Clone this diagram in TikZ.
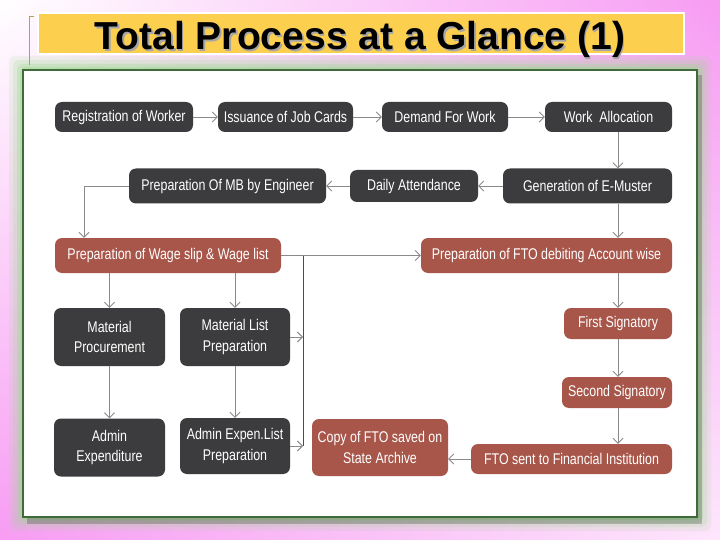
\documentclass[tikz,border=0pt]{standalone}
\usepackage{fontspec}
\setmainfont{Liberation Sans}
\newfontfamily\boxfont{Liberation Sans}[FakeStretch=0.8]
\usetikzlibrary{arrows.meta,positioning,shadings}

\definecolor{boxdark}{HTML}{3C3C3E}
\definecolor{boxred}{HTML}{A8564A}
\definecolor{titleyellow}{HTML}{FDCF4E}
\definecolor{bgpink}{HTML}{F79CF3}
\definecolor{framegreen}{HTML}{3F6B3A}
\definecolor{glowgreen}{HTML}{9CD98F}
\definecolor{linegray}{HTML}{8A8A8A}
\definecolor{bracketolive}{HTML}{B9A040}

\begin{document}
\begin{tikzpicture}[
    x=1pt, y=-1pt,
    box/.style={%
      rounded corners=7pt,
      text=white,
      align=center,
      inner sep=0pt,
      font=\boxfont\fontsize{15.5}{20.5}\selectfont,
    },
    darkbox/.style={box, fill=boxdark},
    redbox/.style={box, fill=boxred},
    sz/.style 2 args={minimum width=#1pt, minimum height=#2pt},
    arr/.style={draw=linegray, line width=0.9pt, -{Straight Barb[length=5pt,width=10pt]}},
    busline/.style={draw=black!70, line width=0.9pt},
  ]

    % background and frame
    \useasboundingbox (0,0) rectangle (720,540);
    \shade[upper left=white, upper right=bgpink, lower left=bgpink, lower right=bgpink!25]
      (0,0) rectangle (720,540);
    \foreach \g/\o in {14/0.15, 10/0.2, 6/0.3, 3/0.4}
      \fill[glowgreen, opacity=\o, rounded corners=6pt] (23-\g,70-\g) rectangle (697+\g,517+\g);
    \fill[black, opacity=0.2] (27,75) rectangle (702,524);
    \draw[framegreen, line width=1.5pt, fill=white] (23,70) rectangle (697,517);

    % title
    \draw[bracketolive, line width=1pt] (34,17) -- (29.5,17) -- (29.5,65);
    \fill[titleyellow, draw=white, line width=2.5pt] (38,13) rectangle (684,54);
    \node [anchor=base, font=\fontsize{39}{39}\selectfont\bfseries, text=black!35] (titleshadow)
      at (361.5,51.5) {Total Process at a Glance (1)};
    \node [anchor=base, font=\fontsize{39}{39}\selectfont\bfseries] (title)
      at (360,50) {Total Process at a Glance (1)};

    % boxes
    \node [darkbox, sz={138}{30}] (reg) at (124,117) {Registration of Worker};
    \path (reg) ++(161.5,0) node [darkbox, sz={135}{30}] (job) {Issuance of Job Cards};
    \path (job) ++(159.5,0) node [darkbox, sz={126}{30}] (demand) {Demand For Work};
    \path (demand) ++(163.5,0) node [darkbox, sz={127}{30}] (alloc) {Work\ \ Allocation};
    \path (alloc) ++(-21,69) node [darkbox, sz={169}{35}] (emuster) {Generation of E-Muster};
    \path (emuster) ++(-173.5,0) node [darkbox, sz={128}{32}] (attend) {Daily Attendance};
    \path (attend) ++(-186.5,0) node [darkbox, sz={197}{35}] (mb) {Preparation Of MB by Engineer};
    \path (mb) ++(-59.5,69.5) node [redbox, sz={226}{35}] (wage) {Preparation of Wage slip \& Wage list};
    \path (emuster) ++(-41,69.5) node [redbox, sz={251}{35}] (fto) {Preparation of FTO debiting Account wise};
    \path (wage) ++(-58.5,81.5) node [darkbox, sz={111}{58}] (matproc) {Material\\Procurement};
    \path (matproc) ++(125.5,0) node [darkbox, sz={110}{58}] (matlist) {Material List\\Preparation};
    \path (matproc) ++(0,110.5) node [darkbox, sz={111}{58}] (adminexp) {Admin\\Expenditure};
    \path (matlist) ++(0,109) node [darkbox, sz={110}{56}] (adminlist) {Admin Expen.List\\Preparation};
    \path (fto) ++(71.5,68) node [redbox, sz={108}{31}] (first) {First Signatory};
    \path (first) ++(-1,69) node [redbox, sz={110}{31}] (second) {Second Signatory};
    \path (second) ++(-45.5,66.5) node [redbox, sz={201}{30}] (sent) {FTO sent to Financial Institution};
    \path (sent) ++(-191.5,-11.5) node [redbox, sz={136}{57}] (copy) {Copy of FTO saved on\\State Archive};

    \coordinate (col) at (618,0);
    \coordinate (lcol) at (84,0);
    \coordinate (bus) at (303,0);

    % connectors
    \draw [arr] (reg) -- (job);
    \draw [arr] (job) -- (demand);
    \draw [arr] (demand) -- (alloc);
    \draw [arr] (alloc.south -| col) -- (emuster.north -| col);
    \draw [arr] (emuster) -- (attend);
    \draw [arr] (attend) -- (mb);
    \draw [arr] (mb.west) -| (wage.north -| lcol);
    \draw [arr] (emuster.south -| col) -- (fto.north -| col);
    \draw [arr] (wage.east) -- (fto.west);
    \draw [arr] (wage.south -| matproc) -- (matproc.north);
    \draw [arr] (wage.south -| matlist) -- (matlist.north);
    \draw [arr] (matproc) -- (adminexp);
    \draw [arr] (matlist) -- (adminlist);
    \draw [busline] (wage.east -| bus) -- (adminlist.east -| bus);
    \draw [arr] (matlist.east) -- (matlist.east -| bus);
    \draw [arr] (adminlist.east) -- (adminlist.east -| bus);
    \draw [arr] (fto.south -| col) -- (first.north -| col);
    \draw [arr] (first.south -| col) -- (second.north -| col);
    \draw [arr] (second.south -| col) -- (sent.north -| col);
    \draw [arr] (sent.west) -- (sent.west -| copy.east);
\end{tikzpicture}
\end{document}
